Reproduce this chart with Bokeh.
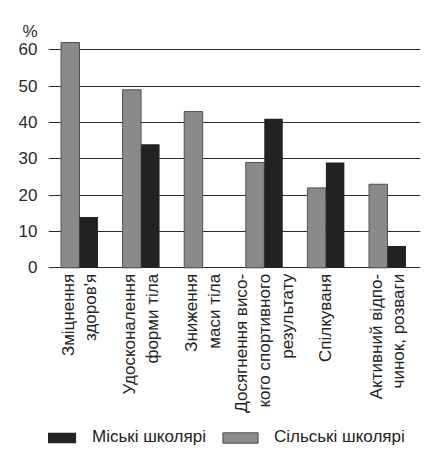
import numpy as np
from math import pi

from bokeh.plotting import figure
from bokeh.models import Range1d, FixedTicker, ColumnDataSource, Legend, LegendItem
from bokeh.core.properties import value
from bokeh.embed import file_html
from bokeh.resources import INLINE

# Motives for physical activity, % of pupils
categories = [
    "Зміцнення\nздоров'я",
    "Удосконалення\nформи тіла",
    "Зниження\nмаси тіла",
    "Досягнення висо-\nкого спортивного\nрезультату",
    "Спілкуваня",
    "Активний відпо-\nчинок, розваги",
]
urban = [14, 34, 0, 41, 29, 6]    # Міські школярі
rural = [62, 49, 43, 29, 22, 23]  # Сільські школярі
y_ticks = [0, 10, 20, 30, 40, 50, 60]
unit_pos = 65  # where the "%" unit sits on the value axis

FONT = "Liberation Sans"
FS = "17px"

idx = np.arange(len(categories))
src = ColumnDataSource(dict(
    x_rural=idx - 0.15,
    x_urban=idx + 0.15,
    rural=rural,
    urban=urban,
    x=idx,
    label_y=[-1.65] * len(categories),
    text=categories,
))

p = figure(width=425, height=457, output_backend="svg", toolbar_location=None,
           x_range=Range1d(-0.503, 5.536), y_range=Range1d(-52.2, 73.57),
           x_axis_location=None,
           min_border_left=48, min_border_right=5, min_border_top=0, min_border_bottom=0)
p.outline_line_color = None
p.background_fill_color = "white"
p.border_fill_color = "white"

# y axis: bare labels plus the unit on top; lines come from the grid
p.yaxis.ticker = FixedTicker(ticks=y_ticks + [unit_pos])
p.yaxis.major_label_overrides = {unit_pos: "%"}
p.yaxis.axis_line_color = None
p.yaxis.major_tick_line_color = None
p.yaxis.minor_tick_line_color = None
p.yaxis.major_label_standoff = 5
p.yaxis.major_label_text_font = FONT
p.yaxis.major_label_text_font_size = FS
p.yaxis.major_label_text_color = "#2a2a2a"

p.xgrid.visible = False
p.ygrid.ticker = FixedTicker(ticks=y_ticks)
p.ygrid.grid_line_color = "#2a2a2a"
p.ygrid.grid_line_width = 1.2

r_rural = p.vbar(x="x_rural", top="rural", bottom=0, width=0.3, source=src,
                 fill_color="#8a8a8a", line_color="#505050", line_width=1)
r_urban = p.vbar(x="x_urban", top="urban", bottom=0, width=0.3, source=src,
                 fill_color="#222222", line_color=None)

# vertical category labels below the baseline
p.text(x="x", y="label_y", text="text", source=src, angle=pi / 2,
       text_align="right", text_baseline="middle",
       text_font=value(FONT), text_font_size=FS, text_color="#222222",
       text_line_height=1.2)

legend = Legend(items=[LegendItem(label="Міські школярі", renderers=[r_urban]),
                       LegendItem(label="Сільські школярі", renderers=[r_rural])],
                orientation="horizontal", location=(-12, 10),
                padding=0, margin=0, spacing=12, label_standoff=12,
                glyph_width=44, glyph_height=13,
                label_text_font=FONT, label_text_font_size=FS,
                label_text_color="#222222",
                border_line_color=None, background_fill_alpha=0)
p.add_layout(legend)

open("out.html", "w").write(file_html(p, INLINE))
